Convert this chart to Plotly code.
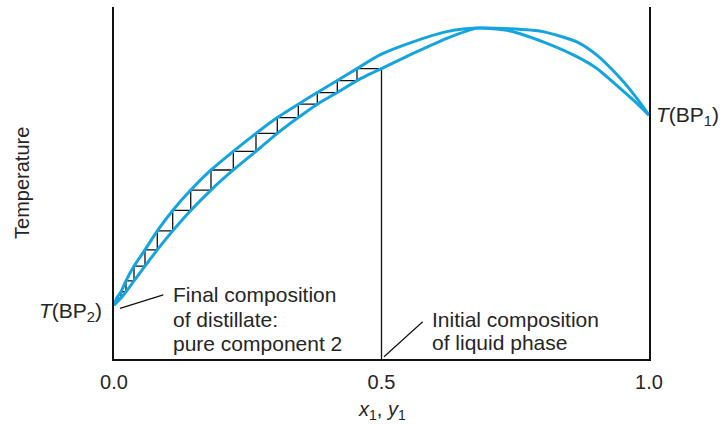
import plotly.graph_objects as go

# ---- data (composition x1 / arbitrary temperature units) ----
liquid_x = [0.0, 0.0131, 0.0224, 0.0374, 0.0579, 0.0809, 0.1097, 0.1434, 0.1813, 0.2230,
            0.2654, 0.3052, 0.3445, 0.3800, 0.4174, 0.4542, 0.5, 0.559, 0.622, 0.679,
            0.740, 0.802, 0.865, 0.902, 0.946, 0.977, 1.0]
liquid_T = [15.3, 17.3, 19.1, 22.2, 26.4, 31.0, 36.4, 42.2, 48.0, 53.7,
            59.0, 64.1, 68.6, 72.4, 75.7, 79.1, 82.5, 86.8, 91.1, 94.0,
            93.2, 90.1, 85.9, 82.6, 76.9, 72.7, 69.3]

vapor_x = [0.0, 0.005, 0.0131, 0.0224, 0.0374, 0.0579, 0.0809, 0.1097, 0.1434, 0.1813,
           0.2230, 0.2654, 0.3052, 0.3445, 0.3800, 0.4174, 0.4542, 0.497, 0.559, 0.622,
           0.679, 0.740, 0.802, 0.865, 0.902, 0.946, 0.977, 1.0]
vapor_T = [15.3, 17.3, 19.1, 22.2, 26.4, 31.0, 36.4, 42.2, 48.0, 53.7,
           59.0, 64.1, 68.6, 72.4, 75.7, 79.1, 82.5, 86.4, 90.1, 93.0,
           94.0, 93.8, 93.0, 90.1, 86.4, 79.8, 74.1, 69.3]

# successive distillation stages: composition and boiling temperature
stage_x = [0.5, 0.4542, 0.4174, 0.38, 0.3445, 0.3052, 0.2654, 0.2230, 0.1813, 0.1434,
           0.1097, 0.0809, 0.0579, 0.0374, 0.0224, 0.0131, 0.005, 0.0]
stage_T = [82.5, 79.1, 75.7, 72.4, 68.6, 64.1, 59.0, 53.7, 48.0, 42.2,
           36.4, 31.0, 26.4, 22.2, 19.1, 17.3, 16.0, 15.3]

x_tick_vals = [0.0, 0.5, 1.0]
x_tick_text = ["0.0", "0.5", "1.0"]

# leader lines for the labels (data units)
final_leader_x = [0.0112, 0.0921]
final_leader_T = [14.4, 18.2]
initial_leader_x = [0.5047, 0.577]
initial_leader_T = [0.65, 10.6]

BLUE = "#14a5e1"
TXT = "#262626"
FONT = "Liberation Sans, Arial, Helvetica, sans-serif"

# staircase path
sx, sy = [stage_x[0]], [stage_T[0]]
for i in range(len(stage_x) - 1):
    sx += [stage_x[i + 1], stage_x[i + 1]]
    sy += [stage_T[i], stage_T[i + 1]]

fig = go.Figure()
fig.add_trace(go.Scatter(x=sx, y=sy, mode="lines", line=dict(color="#111", width=1.3),
                         hoverinfo="skip"))
fig.add_trace(go.Scatter(x=[stage_x[0], stage_x[0]], y=[0, stage_T[0]], mode="lines",
                         line=dict(color="#111", width=1.3), hoverinfo="skip"))
fig.add_trace(go.Scatter(x=liquid_x, y=liquid_T, mode="lines",
                         line=dict(color=BLUE, width=3, shape="spline", smoothing=0.6)))
fig.add_trace(go.Scatter(x=vapor_x, y=vapor_T, mode="lines",
                         line=dict(color=BLUE, width=3, shape="spline", smoothing=0.6)))
fig.add_trace(go.Scatter(x=final_leader_x, y=final_leader_T, mode="lines",
                         line=dict(color="#111", width=1.2), hoverinfo="skip"))
fig.add_trace(go.Scatter(x=initial_leader_x, y=initial_leader_T, mode="lines",
                         line=dict(color="#111", width=1.2), hoverinfo="skip"))

def ann(text, x, y, xanchor="left", yanchor="middle", size=21, angle=0):
    fig.add_annotation(text=text, x=x, y=y, xref="paper", yref="paper",
                       xanchor=xanchor, yanchor=yanchor, showarrow=False,
                       textangle=angle, font=dict(family=FONT, size=size, color=TXT))

ann("<i>T</i>(BP<sub>2</sub>)", -0.0187, 0.1335, xanchor="right")
ann("<i>T</i>(BP<sub>1</sub>)", 1.0093, 0.690, xanchor="left")
ann("Final composition", 0.1065, 0.1832)
ann("of distillate:", 0.1065, 0.1136)
ann("pure component 2", 0.1065, 0.0446)
ann("Initial composition", 0.5907, 0.1122)
ann("of liquid phase", 0.5907, 0.0455)
ann("Temperature", -0.172, 0.5, xanchor="center", angle=-90, size=20)
ann("<i>x</i><sub>1</sub>, <i>y</i><sub>1</sub>", 0.5, -0.145, xanchor="center", size=20)

fig.update_layout(
    width=723, height=425,
    margin=dict(l=114, r=74, t=7, b=66),
    paper_bgcolor="white", plot_bgcolor="white",
    showlegend=False,
    font=dict(family=FONT, color=TXT, size=20),
    xaxis=dict(range=[0, 1], showgrid=False, zeroline=False, showline=True,
               linecolor="#111", linewidth=2, tickvals=x_tick_vals, ticktext=x_tick_text,
               ticks="", ticklabelstandoff=4, tickfont=dict(size=20, color=TXT)),
    yaxis=dict(range=[0, 100], showgrid=False, zeroline=False, showline=True, mirror=True,
               linecolor="#111", linewidth=2, showticklabels=False, ticks=""),
)

fig.write_html("out.html", config={"displayModeBar": False},
               post_script="document.body.style.margin='0';document.body.style.padding='0';"
                           "document.body.style.overflow='hidden';")
